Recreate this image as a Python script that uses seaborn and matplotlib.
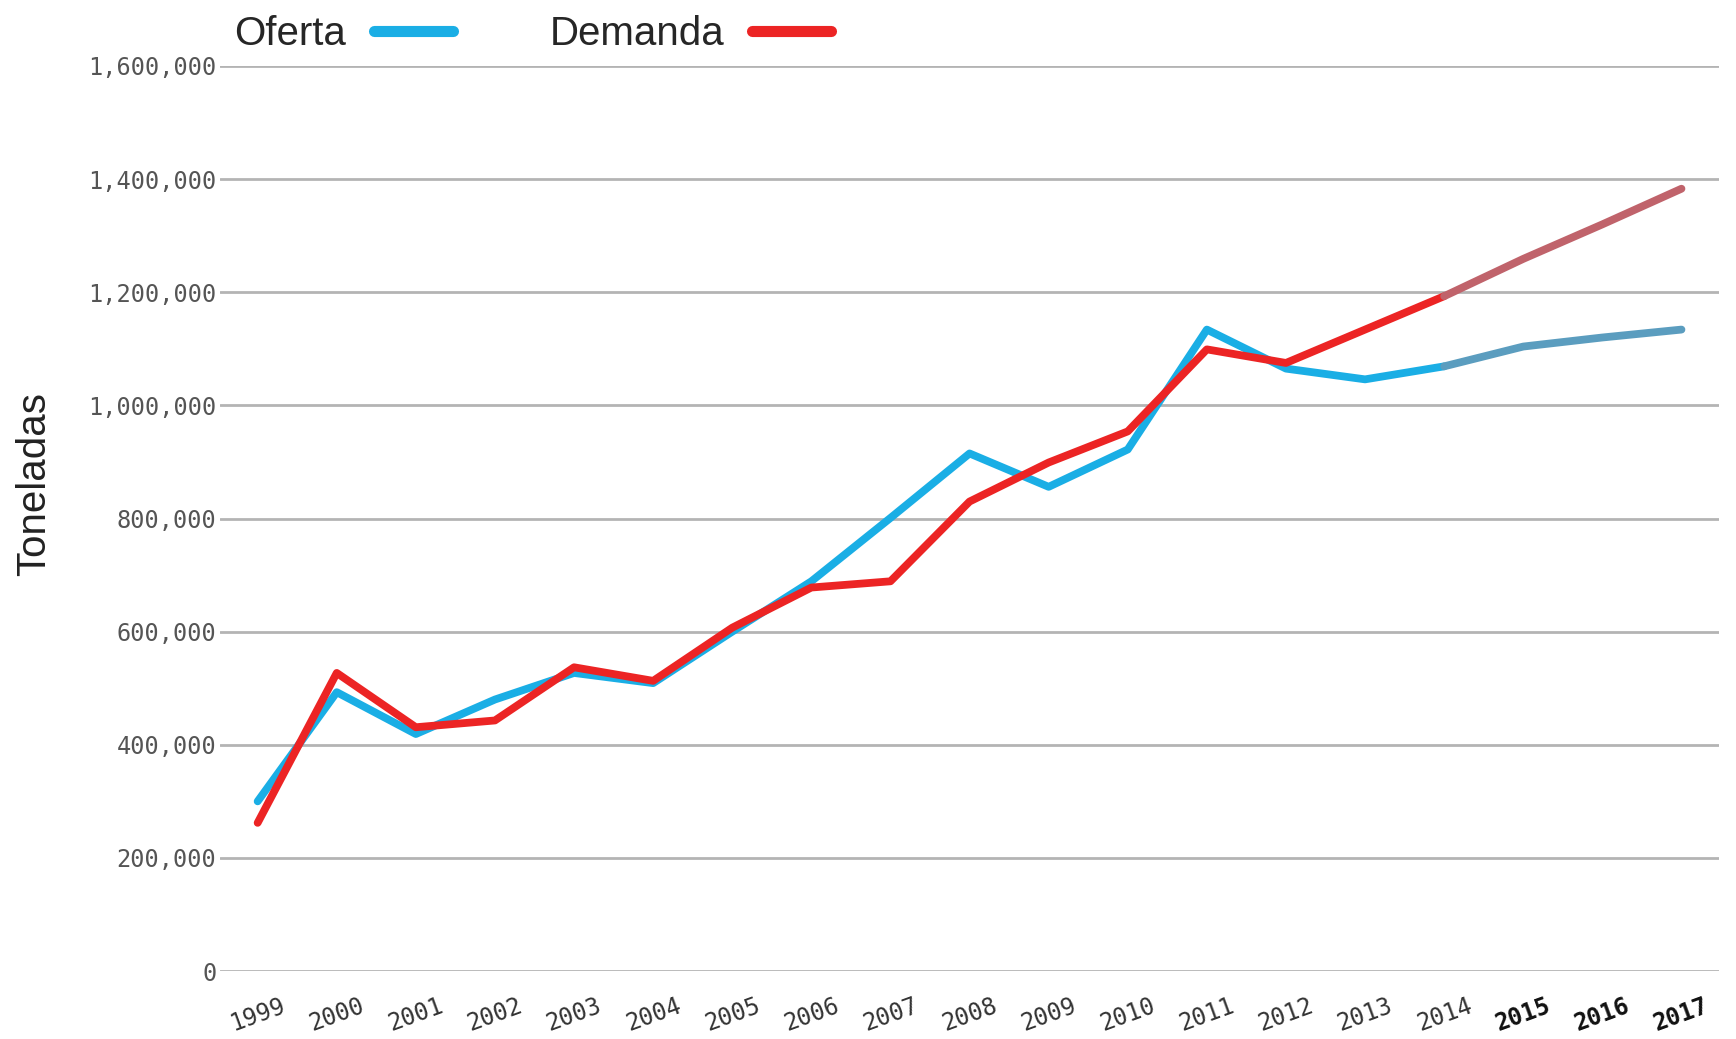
import pandas as pd
import seaborn as sns
import matplotlib.pyplot as plt
from matplotlib.lines import Line2D
from matplotlib.ticker import FuncFormatter

# Datos (toneladas)
years = list(range(1999, 2018))
oferta = [300000, 493000, 419000, 480000, 527000, 509000, 600000, 689000, 801000,
          915000, 856000, 922000, 1134000, 1065000, 1046000, 1069000, 1104000, 1120000, 1134000]
demanda = [262000, 527000, 431000, 443000, 537000, 513000, 607000, 678000, 689000,
           830000, 899000, 954000, 1099000, 1075000, 1134000, 1193000, 1259000, 1320000, 1383000]
last_real = 2014  # desde aqui es proyeccion

df = pd.DataFrame({"Año": years, "Oferta": oferta, "Demanda": demanda})
df = df.melt(id_vars="Año", var_name="Serie", value_name="Toneladas")
real = df[df["Año"] <= last_real]
proy = df[df["Año"] >= last_real]

colores = {"Oferta": "#1aaee5", "Demanda": "#ec2424"}
colores_proy = {"Oferta": "#5b9dbf", "Demanda": "#c0636b"}

sns.set_style("white")
plt.rcParams["font.family"] = ["Liberation Sans", "DejaVu Sans"]

fig = plt.figure(figsize=(17.36, 10.39), dpi=100)
ax = fig.add_axes([0.127, 0.0654, 0.863, 0.8711])

kw = dict(x="Año", y="Toneladas", hue="Serie", hue_order=["Oferta", "Demanda"],
          linewidth=5.6, legend=False, ax=ax, solid_capstyle="round", solid_joinstyle="round")
sns.lineplot(data=real, palette=colores, **kw)
sns.lineplot(data=proy, palette=colores_proy, **kw)

ax.set_ylim(0, 1600000)
ax.set_xlim(1998.53, 2017.47)
ax.set_yticks(range(0, 1600001, 200000))
ax.yaxis.set_major_formatter(FuncFormatter(lambda v, p: f"{int(v):,}"))
ax.set_xticks(years)
ax.set_xticklabels([str(y) for y in years])
ax.grid(axis="y", color="#b4b4b4", linewidth=2)
ax.set_axisbelow(True)
for s in ax.spines.values():
    s.set_visible(False)

ax.tick_params(axis="y", length=0, pad=3, labelsize=17, labelcolor="#555555")
ax.tick_params(axis="x", length=0, pad=16, labelsize=17, labelcolor="#333333")
for lab in ax.get_yticklabels():
    lab.set_fontfamily("DejaVu Sans Mono")
for lab in ax.get_xticklabels():
    lab.set_fontfamily("DejaVu Sans Mono")
    lab.set_rotation(20)
    lab.set_ha("center")
    if int(lab.get_text()) > last_real:
        lab.set_fontweight("bold")
        lab.set_color("#111111")

ax.set_xlabel("")
ax.set_ylabel("Toneladas", fontsize=29, color="#222222")
ax.yaxis.set_label_coords(-0.112, 0.538)

handles = [Line2D([], [], color=colores[k], linewidth=8, solid_capstyle="round") for k in ["Oferta", "Demanda"]]
fig.legend(handles, ["Oferta", "Demanda"], ncol=2, markerfirst=False, frameon=False,
           loc="upper left", bbox_to_anchor=(0.114, 1.02), fontsize=29,
           handlelength=1.95, columnspacing=2.4, handletextpad=0.7)

fig.savefig("out.png", dpi=100, facecolor="white")
